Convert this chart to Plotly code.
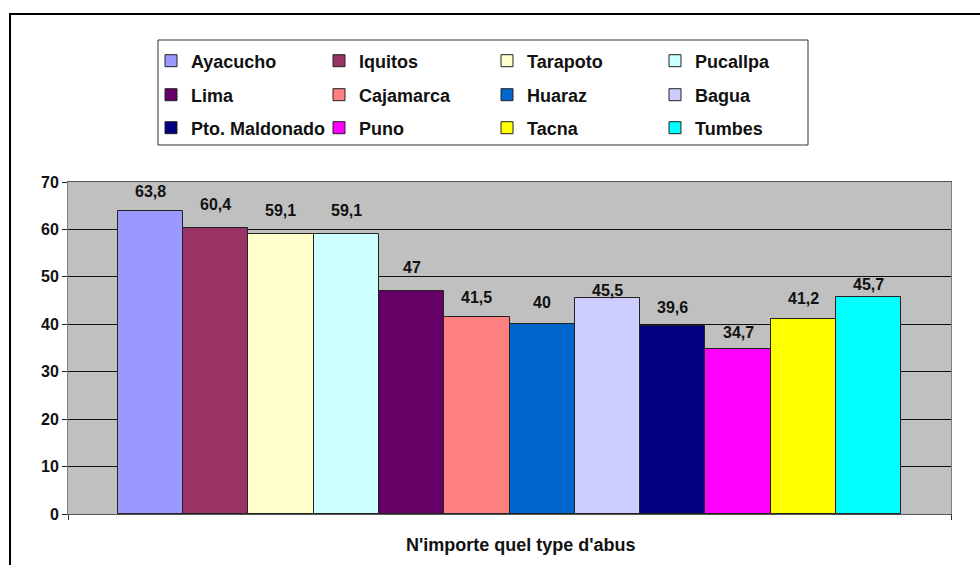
import plotly.graph_objects as go

# Data
cities = ["Ayacucho", "Iquitos", "Tarapoto", "Pucallpa",
          "Lima", "Cajamarca", "Huaraz", "Bagua",
          "Pto. Maldonado", "Puno", "Tacna", "Tumbes"]
values = [63.8, 60.4, 59.1, 59.1, 47, 41.5, 40, 45.5, 39.6, 34.7, 41.2, 45.7]
colors = ["#9999FF", "#993366", "#FFFFCC", "#CCFFFF",
          "#660066", "#FF8080", "#0066CC", "#CCCCFF",
          "#000080", "#FF00FF", "#FFFF00", "#00FFFF"]
category = "N'importe quel type d'abus"
y_ticks = [0, 10, 20, 30, 40, 50, 60, 70]

# label offsets above each bar (px)
label_shift = [20, 23, 23, 23, 24, 20, 22, 8, 19, 17, 20, 13]

W, H = 980, 565
L, R, T, B = 68, 29, 182, 51
PW = W - L - R
PH = H - T - B

FONT = "Liberation Sans, Arial, sans-serif"

def px_x(px):
    return (px - L) / PW

def px_y(py):
    return (H - B - py) / PH

fig = go.Figure()
legend_ids = ["legend", "legend2", "legend3"]
for i, (c, v, col) in enumerate(zip(cities, values, colors)):
    fig.add_trace(go.Bar(
        x=[i], y=[v], width=1, name=c,
        marker=dict(color=col, line=dict(color="#222222", width=1)),
        legend=legend_ids[i // 4],
        hovertemplate=c + ": %{y}<extra></extra>",
    ))

def fmt(v):
    return ("%g" % v).replace(".", ",")

for i, (v, s) in enumerate(zip(values, label_shift)):
    fig.add_annotation(x=i, y=v, text=fmt(v), showarrow=False,
                       yshift=s, yanchor="middle", xanchor="center",
                       font=dict(family=FONT, size=16, color="#111111", weight="bold"))

# axis title
fig.add_annotation(xref="paper", yref="paper", x=px_x(521), y=px_y(545),
                   text=category, showarrow=False,
                   xanchor="center", yanchor="middle",
                   font=dict(family=FONT, size=18, color="#111111", weight="bold"))

# legend frame
fig.add_shape(type="rect", xref="paper", yref="paper",
              x0=px_x(158), x1=px_x(808), y0=px_y(145), y1=px_y(40),
              line=dict(color="#333333", width=1), fillcolor="rgba(0,0,0,0)")

# outer chart frame
fig.add_shape(type="rect", xref="paper", yref="paper",
              x0=px_x(10), x1=px_x(990), y0=px_y(575), y1=px_y(14),
              line=dict(color="#000000", width=2), fillcolor="rgba(0,0,0,0)")

row_y = [61, 95, 128]
leg_common = dict(orientation="h", xanchor="left", yanchor="middle",
                  bgcolor="rgba(0,0,0,0)", borderwidth=0,
                  font=dict(family=FONT, size=18, color="#111111", weight="bold"),
                  entrywidth=123, entrywidthmode="pixels",
                  itemclick=False, itemdoubleclick=False, tracegroupgap=0)
legends = {}
for k, lid in enumerate(legend_ids):
    legends[lid] = dict(leg_common, x=px_x(151), y=px_y(row_y[k]))

fig.update_layout(
    width=W, height=H,
    margin=dict(l=L, r=R, t=T, b=B, pad=0),
    paper_bgcolor="#FFFFFF", plot_bgcolor="#C0C0C0",
    barmode="overlay", bargap=0,
    showlegend=True,
    font=dict(family=FONT, size=16, color="#111111"),
    xaxis=dict(range=[-1.26, 12.26], tickvals=[-1.26, 12.26], showticklabels=False,
               ticks="outside", ticklen=5, tickcolor="#333333",
               showgrid=False, zeroline=False, showline=True, linecolor="#555555",
               linewidth=1, mirror=True, fixedrange=True),
    yaxis=dict(range=[0, 70], tickvals=y_ticks, ticks="outside", ticklen=5,
               tickcolor="#222222",
               tickfont=dict(family=FONT, size=16, color="#111111", weight="bold"),
               showgrid=True, gridcolor="#111111", gridwidth=1, zeroline=False,
               showline=True, linecolor="#808080", linewidth=1, mirror=True,
               fixedrange=True),
    **legends,
)

fig.write_html("out.html")
